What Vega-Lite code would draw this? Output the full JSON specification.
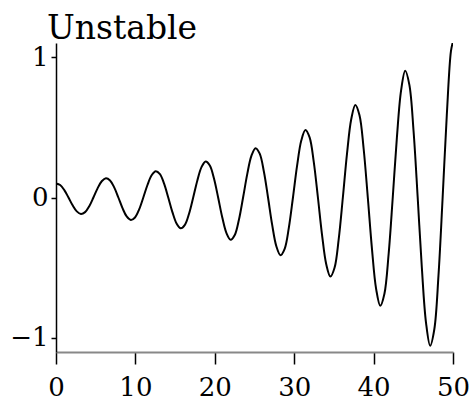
{
 "$schema": "https://vega.github.io/schema/vega-lite/v6.json",
 "width": 397, "height": 309,
 "autosize": {"type": "none"},
 "padding": {"left": 56, "top": 43, "right": 17, "bottom": 53},
 "background": "white",
 "title": {"text": "Unstable", "anchor": "start", "frame": "group", "font": "DejaVu Serif", "fontSize": 33, "fontWeight": "normal", "color": "black", "dx": -9, "dy": 34, "offset": -2, "baseline": "bottom"},
 "data": {"values": [
  {"t":0,"v":0.1},{"t":0.524,"v":0.0889},{"t":1.047,"v":0.0527},{"t":1.571,"v":0},{"t":2.094,"v":-0.0555},{"t":2.618,"v":-0.0987},
  {"t":3.142,"v":-0.117},{"t":3.665,"v":-0.104},{"t":4.189,"v":-0.0617},{"t":4.712,"v":0},{"t":5.236,"v":0.065},{"t":5.76,"v":0.1155},
  {"t":6.283,"v":0.1369},{"t":6.807,"v":0.1217},{"t":7.33,"v":0.0721},{"t":7.854,"v":0},{"t":8.378,"v":-0.076},{"t":8.901,"v":-0.1351},
  {"t":9.425,"v":-0.1602},{"t":9.948,"v":-0.1424},{"t":10.472,"v":-0.0844},{"t":10.996,"v":0},{"t":11.519,"v":0.0889},{"t":12.043,"v":0.1581},
  {"t":12.566,"v":0.1875},{"t":13.09,"v":0.1666},{"t":13.614,"v":0.0988},{"t":14.137,"v":0},{"t":14.661,"v":-0.1041},{"t":15.184,"v":-0.185},
  {"t":15.708,"v":-0.2193},{"t":16.232,"v":-0.195},{"t":16.755,"v":-0.1156},{"t":17.279,"v":0},{"t":17.802,"v":0.1218},{"t":18.326,"v":0.2165},
  {"t":18.85,"v":0.2566},{"t":19.373,"v":0.2281},{"t":19.897,"v":0.1352},{"t":20.42,"v":0},{"t":20.944,"v":-0.1425},{"t":21.468,"v":-0.2533},
  {"t":21.991,"v":-0.3003},{"t":22.515,"v":-0.2669},{"t":23.038,"v":-0.1582},{"t":23.562,"v":0},{"t":24.086,"v":0.1667},{"t":24.609,"v":0.2964},
  {"t":25.133,"v":0.3514},{"t":25.656,"v":0.3123},{"t":26.18,"v":0.1851},{"t":26.704,"v":0},{"t":27.227,"v":-0.1951},{"t":27.751,"v":-0.3469},
  {"t":28.274,"v":-0.4111},{"t":28.798,"v":-0.3655},{"t":29.322,"v":-0.2166},{"t":29.845,"v":0},{"t":30.369,"v":0.2283},{"t":30.892,"v":0.4058},
  {"t":31.416,"v":0.4811},{"t":31.94,"v":0.4276},{"t":32.463,"v":0.2535},{"t":32.987,"v":0},{"t":33.51,"v":-0.2671},{"t":34.034,"v":-0.4749},
  {"t":34.558,"v":-0.5629},{"t":35.081,"v":-0.5004},{"t":35.605,"v":-0.2966},{"t":36.128,"v":0},{"t":36.652,"v":0.3125},{"t":37.176,"v":0.5556},
  {"t":37.699,"v":0.6586},{"t":38.223,"v":0.5855},{"t":38.746,"v":0.347},{"t":39.27,"v":0},{"t":39.794,"v":-0.3657},{"t":40.317,"v":-0.6501},
  {"t":40.841,"v":-0.7706},{"t":41.364,"v":-0.6851},{"t":41.888,"v":-0.406},{"t":42.412,"v":0},{"t":42.935,"v":0.4279},{"t":43.459,"v":0.7607},
  {"t":43.982,"v":0.9017},{"t":44.506,"v":0.8016},{"t":45.03,"v":0.4751},{"t":45.553,"v":0},{"t":46.077,"v":-0.5006},{"t":46.6,"v":-0.8901},
  {"t":47.124,"v":-1.0551},{"t":47.648,"v":-0.9379},{"t":48.171,"v":-0.5559},{"t":48.695,"v":0},{"t":49.218,"v":0.5858},{"t":49.742,"v":1.0415},
  {"t":50,"v":1.11}
 ]},
 "mark": {"type": "line", "interpolate": "catmull-rom", "color": "black", "strokeWidth": 2, "clip": true},
 "encoding": {
  "x": {"field": "t", "type": "quantitative",
   "scale": {"domain": [0, 50], "nice": false, "zero": false},
   "axis": {"values": [0, 10, 20, 30, 40, 50], "title": null, "grid": false, "domainColor": "#888888", "domainWidth": 2, "tickColor": "black", "tickWidth": 1.5, "tickSize": 12, "labelFont": "DejaVu Serif", "labelFontSize": 26, "labelColor": "black", "labelPadding": 10, "labelFlush": false}},
  "y": {"field": "v", "type": "quantitative",
   "scale": {"domain": [-1.1, 1.1], "nice": false, "zero": false},
   "axis": {"values": [-1, 0, 1], "title": null, "grid": false, "domainColor": "black", "domainWidth": 1.5, "tickColor": "black", "tickWidth": 1.5, "tickSize": 5, "labelFont": "DejaVu Serif", "labelFontSize": 26, "labelColor": "black", "labelPadding": 3, "labelFlush": false}}
 },
 "config": {"view": {"stroke": null}}
}
